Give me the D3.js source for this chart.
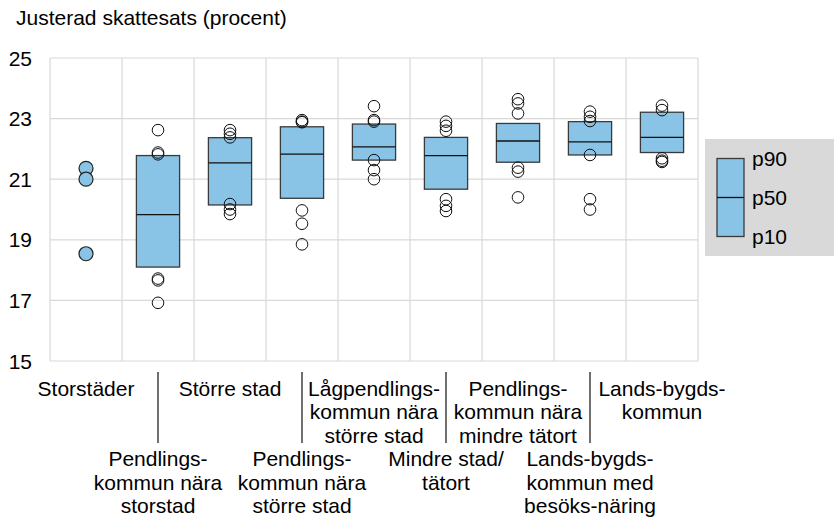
<!DOCTYPE html>
<html><head><meta charset="utf-8">
<script src="https://cdn.jsdelivr.net/npm/d3@7"></script>
<style>body{margin:0;background:#fff}svg{display:block}text{font-family:"Liberation Sans",Arial,sans-serif;fill:#000}</style>
</head><body><svg id="c" width="834" height="522"></svg>
<script>
const categories = ["Storstäder","Pendlingskommun nära storstad","Större stad","Pendlingskommun nära större stad","Lågpendlingskommun nära större stad","Mindre stad/tätort","Pendlingskommun nära mindre tätort","Landsbygdskommun med besöksnäring","Landsbygdskommun"];
const labelLines = [["Storstäder"],["Pendlings-","kommun nära","storstad"],["Större stad"],["Pendlings-","kommun nära","större stad"],["Lågpendlings-","kommun nära","större stad"],["Mindre stad/","tätort"],["Pendlings-","kommun nära","mindre tätort"],["Lands-bygds-","kommun med","besöks-näring"],["Lands-bygds-","kommun"]];
const p10 = [null,18.10,20.15,20.37,21.63,20.67,21.56,21.80,21.88];
const p50 = [null,19.83,21.54,21.83,22.07,21.78,22.26,22.23,22.38];
const p90 = [null,21.78,22.37,22.73,22.82,22.38,22.84,22.90,23.21];
const storstader = [21.36,21.00,18.54];
const outliers = [
  [],
  [22.62,21.88,21.82,17.72,17.66,16.92],
  [22.62,22.50,22.38,20.18,20.00,19.85],
  [22.95,22.90,22.88,19.97,19.53,18.85],
  [23.41,22.95,22.90,21.63,21.30,21.00],
  [22.90,22.76,22.60,20.34,20.12,19.95],
  [23.64,23.50,23.17,21.38,21.25,20.40],
  [23.23,23.06,22.92,21.80,20.34,20.00],
  [23.43,23.28,21.69,21.61,21.57]
];
const yTicks = [15,17,19,21,23,25];
const legendLabels = ["p90","p50","p10"];

const svg = d3.select("#c");
const x = d3.scaleBand().domain(categories).range([50,698]).paddingInner(0).paddingOuter(0);
const y = d3.scaleLinear().domain([15,25]).range([361,58]);
const grid = "#d9d9d9";

// horizontal grid
svg.append("g").selectAll("line").data(yTicks).join("line")
  .attr("x1",50).attr("x2",698).attr("y1",d=>y(d)).attr("y2",d=>y(d))
  .attr("stroke",grid).attr("stroke-width",1.2);
// vertical grid
const vx = categories.map(c=>x(c)).concat([698]);
svg.append("g").selectAll("line").data(vx).join("line")
  .attr("x1",d=>d).attr("x2",d=>d).attr("y1",y(25)).attr("y2",y(15))
  .attr("stroke",grid).attr("stroke-width",1.2);

// y labels
svg.append("g").selectAll("text").data(yTicks).join("text")
  .attr("x",32).attr("y",d=>y(d)).attr("text-anchor","end").attr("dominant-baseline","central")
  .attr("font-size",21).text(d=>d);

svg.append("text").attr("x",16).attr("y",25).attr("font-size",21).text("Justerad skattesats (procent)");

const fill = "#89c3e6", stroke = "#3a3a3a";
const bw = x.bandwidth()*0.6;
const cx = c => x(c)+x.bandwidth()/2;

// boxes
const boxes = categories.map((c,i)=>({c,lo:p10[i],md:p50[i],hi:p90[i]})).filter(d=>d.lo!=null);
const gb = svg.append("g");
gb.selectAll("rect").data(boxes).join("rect")
  .attr("x",d=>cx(d.c)-bw/2).attr("width",bw)
  .attr("y",d=>y(d.hi)).attr("height",d=>y(d.lo)-y(d.hi))
  .attr("fill",fill).attr("stroke",stroke).attr("stroke-width",1.3);
gb.selectAll("line").data(boxes).join("line")
  .attr("x1",d=>cx(d.c)-bw/2).attr("x2",d=>cx(d.c)+bw/2)
  .attr("y1",d=>y(d.md)).attr("y2",d=>y(d.md))
  .attr("stroke","#111").attr("stroke-width",1.3);

// outliers
const pts = [];
outliers.forEach((arr,i)=>arr.forEach(v=>pts.push({c:categories[i],v})));
svg.append("g").selectAll("circle").data(pts).join("circle")
  .attr("cx",d=>cx(d.c)).attr("cy",d=>y(d.v)).attr("r",5.8)
  .attr("fill","none").attr("stroke","#111").attr("stroke-width",1);
svg.append("g").selectAll("circle").data(storstader).join("circle")
  .attr("cx",cx(categories[0])).attr("cy",d=>y(d)).attr("r",7)
  .attr("fill",fill).attr("stroke","#222").attr("stroke-width",1.2);

// x labels
const lh = 23.5;
const gl = svg.append("g");
categories.forEach((c,i)=>{
  const base = (i%2===0) ? 395.5 : 466;
  const t = gl.append("text").attr("text-anchor","middle").attr("font-size",21);
  labelLines[i].forEach((s,k)=>t.append("tspan").attr("x",cx(c)).attr("y",base+k*lh).text(s));
  if(i%2===1){
    gl.append("line").attr("x1",cx(c)).attr("x2",cx(c)).attr("y1",372).attr("y2",443)
      .attr("stroke","#222").attr("stroke-width",1.3);
  }
});

// legend
const lg = svg.append("g");
lg.append("rect").attr("x",705).attr("y",139).attr("width",129).attr("height",117).attr("fill","#d9d9d9");
const ly = d3.scalePoint().domain(legendLabels).range([158.5,236.5]);
lg.append("rect").attr("x",717).attr("y",ly("p90")).attr("width",27).attr("height",ly("p10")-ly("p90"))
  .attr("fill",fill).attr("stroke",stroke).attr("stroke-width",1.3);
lg.append("line").attr("x1",717).attr("x2",744).attr("y1",ly("p50")).attr("y2",ly("p50")).attr("stroke","#111").attr("stroke-width",1.3);
lg.selectAll("text").data(legendLabels).join("text")
  .attr("x",752).attr("y",d=>ly(d)).attr("dominant-baseline","central").attr("font-size",21).text(d=>d);
</script></body></html>
